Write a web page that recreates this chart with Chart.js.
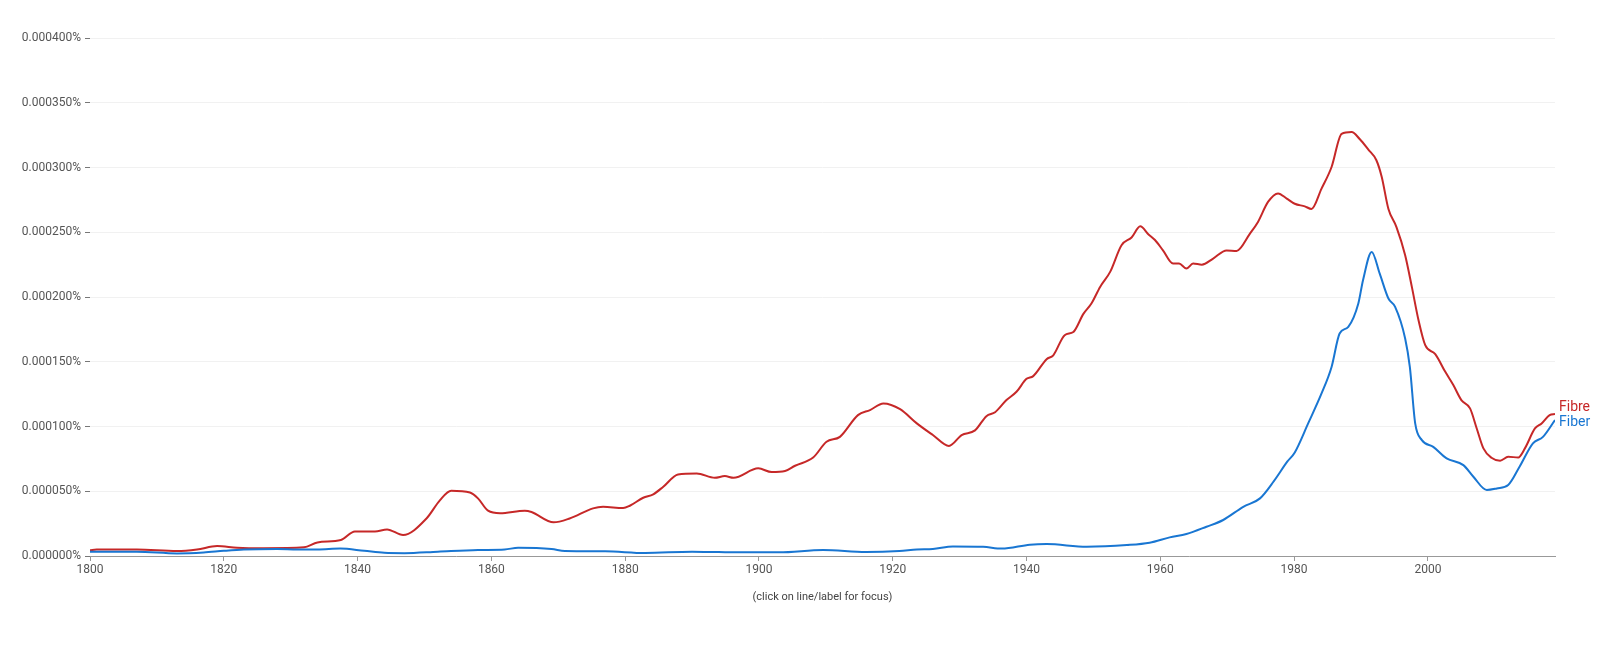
<!DOCTYPE html>
<html>
<head>
<meta charset="utf-8">
<script src="https://cdn.jsdelivr.net/npm/chart.js@4.4.1/dist/chart.umd.min.js"></script>
<style>
  body { margin: 0; background: #fff; }
  canvas { display: block; }
</style>
</head>
<body>
<canvas id="ngram" width="1612" height="654"></canvas>
<script>
// values are in millionths of a percent (1 = 0.000001%)
const fibreYears = [1800, 1801, 1807, 1813, 1816, 1819, 1822, 1826, 1832, 1834, 1837.5, 1839.6, 1842.6, 1844.4, 1846.8,
  1850.3, 1852.3, 1854, 1856.8, 1858, 1859.5, 1861.3, 1865, 1866, 1869.3, 1871.7, 1875.2, 1876.7, 1879.7, 1880.7,
  1882.7, 1884.2, 1885.7, 1887.9, 1890.7, 1893.4, 1894.9, 1896.2, 1899.9, 1901.9, 1903.9, 1905.4, 1908.1, 1910.1,
  1912.1, 1914.8, 1916.6, 1918.6, 1921.1, 1923.6, 1926, 1928.4, 1930.3, 1932.3, 1934, 1935.3, 1937, 1938.5, 1940,
  1941, 1943, 1944, 1945.7, 1947, 1948.5, 1949.7, 1951, 1952.5, 1954.2, 1955.7, 1957, 1958.2, 1959.2, 1960.4,
  1961.9, 1962.8, 1963.9, 1964.9, 1966.2, 1967.9, 1969.9, 1971.4, 1973.4, 1974.6, 1976.1, 1977.6, 1978.9, 1980.1,
  1981.6, 1982.6, 1984.1, 1985.6, 1987.1, 1988.6, 1989.8, 1991.1, 1992.3, 1993.1, 1994.1, 1995.3, 1996.6, 1997.6,
  1998.6, 1999.6, 2001.1, 2002.6, 2003.8, 2005, 2006.3, 2007.3, 2008.3, 2009.5, 2010.8, 2012, 2013.5, 2014.5,
  2016, 2017, 2018.2, 2019];
const fibreValues = [4.5, 5, 5, 3.8, 5, 7.7, 6.4, 6, 6.7, 10.5, 12.3, 19, 19, 20.5, 16.2,
  29, 43, 50.4, 49, 44.5, 35, 33, 35, 34, 26, 29, 36.8, 38, 37, 38.8,
  45, 47.6, 53.5, 63, 63.8, 60.4, 61.7, 60.4, 67.7, 64.8, 65.6, 69.7, 76, 88.2,
  92, 108.8, 112.7, 117.8, 113.4, 102.4, 93.4, 85, 93.4, 97, 108, 111, 120.4, 126.8, 136.8,
  138.9, 152, 155, 170.5, 173, 187, 195, 207.8, 219.4, 240, 246, 254.6, 248.5, 244, 236,
  225.8, 225.8, 222, 225.8, 225, 229.7, 236, 235.6, 249, 258, 273.4, 280, 276, 272,
  270, 268, 283.7, 300.4, 326, 327.4, 322, 313.8, 305.6, 292.7, 268, 254, 232.3, 207.8,
  182, 162.8, 155.9, 142.2, 132, 120.4, 114, 98.5, 83.1, 75.9, 73.6, 76.6, 76.1, 83.1,
  98.5, 102.4, 108.8, 109.6];

const fiberYears = [1800, 1807, 1813, 1817, 1820, 1823, 1828, 1831, 1834, 1837.4, 1841, 1844, 1847, 1852, 1858,
  1862, 1864, 1869, 1871, 1877, 1883, 1890, 1894, 1897, 1903, 1909.6, 1916, 1921, 1923.6, 1926, 1929, 1933.5,
  1936.3, 1940.5, 1943, 1949, 1955, 1958.4, 1961.4, 1963.9, 1966.9, 1969.4, 1972.4, 1974.9, 1977, 1979, 1980.1,
  1982.1, 1984.1, 1985.6, 1986.8, 1988.1, 1989.6, 1990.3, 1991.6, 1992.8, 1994.1, 1995.1, 1996.6, 1997.3, 1998.1,
  1999.1, 2000.8, 2002.8, 2005.3, 2006.8, 2008.8, 2010.3, 2012, 2013.7, 2015.7, 2017.2, 2019];
const fiberValues = [3.3, 3.3, 2, 2.7, 4, 5, 5.4, 5, 5, 5.7, 4, 2.5, 2.2, 3.3, 4.6,
  5, 6.4, 5.4, 3.8, 3.6, 2.3, 3.3, 3, 2.8, 2.8, 4.6, 3, 3.8, 5, 5.4, 7.4, 7.1,
  5.7, 8.7, 9.2, 7.2, 8.5, 10.3, 14.4, 17, 22.6, 27.8, 38, 44.5, 58, 73, 80,
  102.4, 125.5, 146, 171.8, 177, 195, 213, 234.8, 218, 198.8, 192.4, 168, 146, 102.4,
  89.5, 84.3, 75.4, 70.2, 61.2, 51, 52.2, 54.8, 68.9, 87, 92, 105];

const seriesNames = ['Fiber', 'Fibre'];
const seriesColors = ['#1976d2', '#c62828'];
const yTickStep = 50;
const yMax = 400;
const xTickStep = 20;

const toPoints = (xs, ys) => xs.map((x, i) => ({ x, y: ys[i] }));

// end-of-line labels next to the last point of each series
const endLabels = {
  id: 'endLabels',
  afterDatasetsDraw(chart) {
    const { ctx } = chart;
    const shifts = [2, -7];
    ctx.save();
    ctx.font = '14px Roboto';
    ctx.textBaseline = 'middle';
    chart.data.datasets.forEach((ds, i) => {
      const meta = chart.getDatasetMeta(i);
      const last = meta.data[meta.data.length - 1];
      ctx.fillStyle = ds.borderColor;
      ctx.fillText(ds.label, last.x + 4, last.y + shifts[i]);
    });
    ctx.restore();
  }
};

new Chart(document.getElementById('ngram'), {
  type: 'line',
  data: {
    datasets: [
      {
        label: seriesNames[0],
        data: toPoints(fiberYears, fiberValues),
        borderColor: seriesColors[0],
      },
      {
        label: seriesNames[1],
        data: toPoints(fibreYears, fibreValues),
        borderColor: seriesColors[1],
      },
    ],
  },
  options: {
    responsive: false,
    animation: false,
    elements: {
      line: { borderWidth: 2, cubicInterpolationMode: 'monotone' },
      point: { radius: 0, hoverRadius: 0 },
    },
    layout: { padding: { top: 38, right: 57, left: 0, bottom: 0 } },
    plugins: {
      legend: { display: false },
      tooltip: { enabled: false },
    },
    scales: {
      x: {
        type: 'linear',
        min: 1800,
        max: 2019,
        border: { display: true, color: '#999', width: 1 },
        grid: { drawOnChartArea: false, drawTicks: true, tickLength: 5, tickColor: '#999' },
        ticks: {
          stepSize: xTickStep,
          includeBounds: false,
          padding: 2,
          color: '#555',
          font: { family: 'Roboto', size: 12 },
          callback: (v) => String(v),
        },
        title: {
          display: true,
          text: '(click on line/label for focus)',
          color: '#444',
          font: { family: 'Roboto', size: 11 },
          padding: { top: 0, bottom: 50 },
        },
        afterFit: (scale) => { scale.height = 98; },
      },
      y: {
        min: 0,
        max: yMax,
        border: { display: false },
        grid: { color: '#f1f1f1', tickLength: 5, tickColor: '#777' },
        ticks: {
          stepSize: yTickStep,
          padding: 4,
          color: '#555',
          font: { family: 'Roboto', size: 12 },
          callback: (v) => (v / 1e6).toFixed(6) + '%',
        },
        afterFit: (scale) => { scale.width = 90; },
      },
    },
  },
  plugins: [endLabels],
});
</script>
</body>
</html>
